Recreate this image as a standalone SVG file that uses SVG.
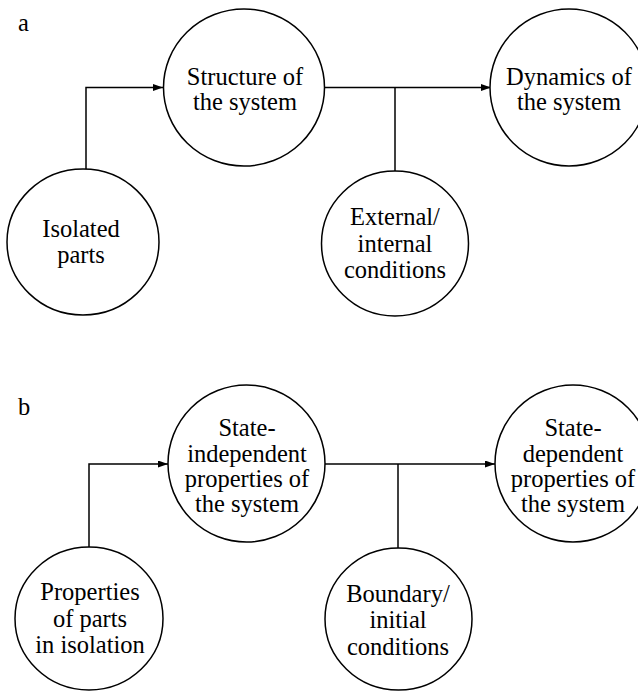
<svg xmlns="http://www.w3.org/2000/svg" width="638" height="691" viewBox="0 0 638 691">
<style>
.n{fill:#fff;stroke:#000;stroke-width:1.5}
.c{fill:none;stroke:#000;stroke-width:1.5}
text{font-family:'Liberation Serif','DejaVu Serif',serif;font-size:24.5px;fill:#000;text-anchor:middle}
.lbl{text-anchor:start}
</style>
<defs>
<marker id="ah" markerWidth="10" markerHeight="7" refX="10" refY="3.5" orient="auto" markerUnits="userSpaceOnUse">
<path d="M0,0 L10,3.5 L0,7 z" fill="#000"/>
</marker>
</defs>
<text class="lbl" x="18" y="31">a</text>
<text class="lbl" x="18" y="415">b</text>
<g id="connectors">
<path class="c" d="M86,169 V87.5 H163" marker-end="url(#ah)"/>
<path class="c" d="M324,87.5 H491" marker-end="url(#ah)"/>
<path class="c" d="M395,87.5 V171"/>
<path class="c" d="M89,547 V464 H168" marker-end="url(#ah)"/>
<path class="c" d="M325,464 H495" marker-end="url(#ah)"/>
<path class="c" d="M398,464 V548"/>
</g>
<g id="structure">
<ellipse class="n" cx="244" cy="87.5" rx="80.5" ry="78.5"/>
<text x="245" y="85">Structure of</text>
<text x="245" y="110">the system</text>
</g>
<g id="dynamics">
<ellipse class="n" cx="569" cy="87.5" rx="79" ry="78.5"/>
<text x="569" y="85">Dynamics of</text>
<text x="569" y="110">the system</text>
</g>
<g id="isolated">
<ellipse class="n" cx="83" cy="242" rx="76" ry="73"/>
<text x="81" y="237">Isolated</text>
<text x="81" y="263">parts</text>
</g>
<g id="external">
<ellipse class="n" cx="395" cy="243.5" rx="73.5" ry="72.5"/>
<text x="395" y="225">External/</text>
<text x="395" y="252">internal</text>
<text x="395" y="278">conditions</text>
</g>
<g id="stateind">
<ellipse class="n" cx="246.5" cy="463.5" rx="78.5" ry="78.5"/>
<text x="247" y="436">State-</text>
<text x="247" y="462">independent</text>
<text x="247" y="487">properties of</text>
<text x="247" y="512">the system</text>
</g>
<g id="statedep">
<ellipse class="n" cx="573" cy="463.5" rx="78" ry="78.5"/>
<text x="573" y="436">State-</text>
<text x="573" y="462">dependent</text>
<text x="573" y="487">properties of</text>
<text x="573" y="512">the system</text>
</g>
<g id="props">
<ellipse class="n" cx="89" cy="618.5" rx="74" ry="71.5"/>
<text x="90" y="600">Properties</text>
<text x="90" y="627">of parts</text>
<text x="90" y="653">in isolation</text>
</g>
<g id="boundary">
<ellipse class="n" cx="398.5" cy="619" rx="73.5" ry="71"/>
<text x="398" y="602">Boundary/</text>
<text x="398" y="628">initial</text>
<text x="398" y="655">conditions</text>
</g>
</svg>
